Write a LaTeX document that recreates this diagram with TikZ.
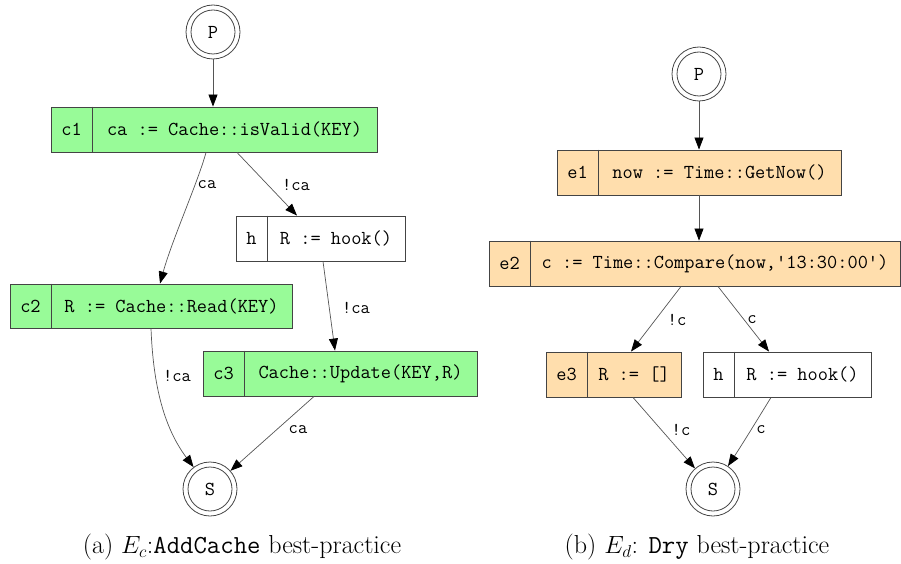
\documentclass[tikz,border=0pt]{standalone}
\usepackage{fontspec}
\usetikzlibrary{arrows.meta}
\definecolor{gfill}{HTML}{98FB98}
\definecolor{ofill}{HTML}{FFDEAD}
\definecolor{bline}{HTML}{444444}
\definecolor{eline}{HTML}{555555}
\tikzset{
  cbox/.style={draw=bline, line width=0.9pt, rectangle, inner sep=0pt},
  ctext/.style={font=\ttfamily\fontsize{19.8}{22}\selectfont, inner sep=0pt},
  elab/.style={font=\ttfamily\fontsize{18}{21}\selectfont, inner sep=0pt},
  edge/.style={draw=eline, line width=0.7pt, -{Triangle[length=12pt,width=9pt,color=black]}},
  state/.style={circle, draw=bline, line width=0.8pt, minimum size=54pt, inner sep=0pt},
  inner/.style={circle, draw=bline, line width=0.8pt, minimum size=44pt, inner sep=0pt, font=\ttfamily\fontsize{19.8}{22}\selectfont},
  capt/.style={font=\fontsize{26}{30}\selectfont, inner sep=0pt}
}
% name, fill, xleft, xdiv, xright, ytop, ybottom, id, code
\newcommand\cfgbox[9]{%
  \node[cbox, fill=#2, minimum width={(#5-#3)*1pt}, minimum height={(#7-#6)*1pt}] (#1) at ({(#3+#5)/2},{(#6+#7)/2}) {};
  \draw[bline, line width=0.9pt] (#1.north -| #4,0) -- (#1.south -| #4,0);
  \node[ctext] (#1id) at ({(#3+#4)/2},{(#6+#7)/2}) {#8};
  \node[ctext] (#1tx) at ({(#4+#5)/2},{(#6+#7)/2}) {#9};
}
\begin{document}
\begin{tikzpicture}[x=1pt,y=-1pt]
\useasboundingbox (0,0) rectangle (901,564);

% ---------- (a) ----------
\node[state] (PA) at (213,32) {};
\node[inner] (PAi) at (PA) {P};
\cfgbox{c1}{gfill}{51}{92}{377}{107}{152}{c1}{ca := Cache::isValid(KEY)}
\cfgbox{hA}{white}{236}{267}{405}{216}{261}{h}{R := hook()}
\cfgbox{c2}{gfill}{10}{51}{292}{284}{328}{c2}{R := Cache::Read(KEY)}
\cfgbox{c3}{gfill}{203}{244}{477}{351}{396}{c3}{Cache::Update(KEY,R)}
\node[state] (SA) at (210,489) {};
\node[inner] (SAi) at (SA) {S};

\draw[edge] (PA) -- (PA |- c1.north);
\draw[edge] ([xshift=-8pt]c1.south) .. controls (198,182) and (172,240) .. ([xshift=9pt]c2.north);
\node[elab] (la1) at (207,185) {ca};
\draw[edge] ([xshift=23pt]c1.south) -- ([xshift=-23.5pt]hA.north);
\node[elab] (la2) at (296,185) {!ca};
\draw[edge] ([xshift=2.5pt]hA.south) -- ([xshift=-5pt]c3.north);
\node[elab] (la3) at (356,308) {!ca};
\draw[edge] (c2.south) .. controls (153,380) and (162,425) .. (SA);
\node[elab] (la4) at (177,376) {!ca};
\draw[edge] ([xshift=-26pt]c3.south) -- (SA);
\node[elab] (la5) at (298,430) {ca};

\node[capt] (capa) at (242,547) {(a) $E_c$:\texttt{AddCache} best-practice};

% ---------- (b) ----------
\node[state] (PB) at (699,74) {};
\node[inner] (PBi) at (PB) {P};
\cfgbox{e1}{ofill}{557}{598}{841}{150}{195}{e1}{now := Time::GetNow()}
\cfgbox{e2}{ofill}{489}{530}{900}{241}{286}{e2}{c := Time::Compare(now,'13:30:00')}
\cfgbox{e3}{ofill}{546}{587}{681}{352}{397}{e3}{R := []}
\cfgbox{hB}{white}{703}{734}{871}{352}{397}{h}{R := hook()}
\node[state] (SB) at (713,489) {};
\node[inner] (SBi) at (SB) {S};

\draw[edge] (PB) -- (PB |- e1.north);
\draw[edge] (e1.south) -- (e1.south |- e2.north);
\draw[edge] ([xshift=-13.5pt]e2.south) -- ([xshift=17.5pt]e3.north);
\node[elab] (lb1) at (677,320) {!c};
\draw[edge] ([xshift=23.5pt]e2.south) -- ([xshift=-18pt]hB.north);
\node[elab] (lb2) at (752,320) {c};
\draw[edge] ([xshift=19.5pt]e3.south) -- (SB);
\node[elab] (lb3) at (681,430) {!c};
\draw[edge] ([xshift=-16pt]hB.south) .. controls (762,412) and (745,440) .. (SB);
\node[elab] (lb4) at (761,430) {c};

\node[capt] (capb) at (697,547) {(b) $E_d$: \texttt{Dry} best-practice};
\end{tikzpicture}
\end{document}
